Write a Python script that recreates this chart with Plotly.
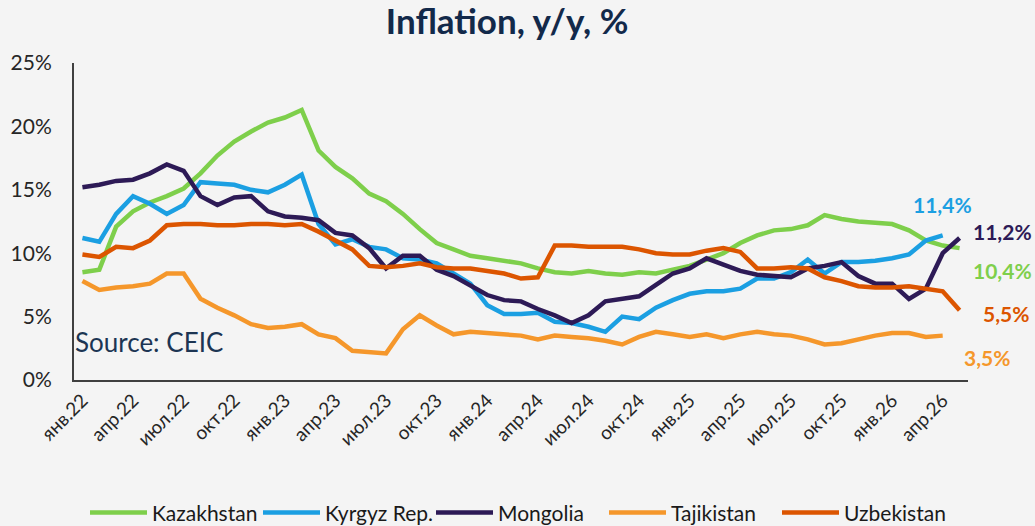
import plotly.graph_objects as go

months_ru = ["янв", "фев", "мар", "апр", "май", "июн", "июл", "авг", "сен", "окт", "ноя", "дек"]
categories = [f"{m}.{y}" for y in ["22", "23", "24", "25", "26"] for m in months_ru][:53]
tick_labels = categories[::3]

kazakhstan = [8.5, 8.7, 12.1, 13.3, 14.0, 14.5, 15.1, 16.3, 17.7, 18.8, 19.6, 20.3, 20.7, 21.3,
              18.1, 16.8, 15.9, 14.7, 14.1, 13.1, 11.9, 10.8, 10.3, 9.8, 9.6, 9.4, 9.2, 8.8,
              8.5, 8.4, 8.6, 8.4, 8.3, 8.5, 8.4, 8.7, 9.0, 9.5, 10.0, 10.8, 11.4, 11.8, 11.9,
              12.2, 13.0, 12.7, 12.5, 12.4, 12.3, 11.8, 11.0, 10.6, 10.4]
kyrgyz = [11.2, 10.9, 13.1, 14.5, 13.9, 13.1, 13.8, 15.6, 15.5, 15.4, 15.0, 14.8, 15.4, 16.2,
          12.3, 10.7, 11.1, 10.5, 10.3, 9.6, 9.5, 9.2, 8.4, 7.6, 5.9, 5.2, 5.2, 5.3,
          4.6, 4.5, 4.2, 3.8, 5.0, 4.8, 5.7, 6.3, 6.8, 7.0, 7.0, 7.2, 8.0, 8.0, 8.5,
          9.5, 8.4, 9.3, 9.3, 9.4, 9.6, 9.9, 11.0, 11.4]
mongolia = [15.2, 15.4, 15.7, 15.8, 16.3, 17.0, 16.5, 14.5, 13.8, 14.4, 14.5, 13.3, 12.9, 12.8,
            12.6, 11.6, 11.4, 10.4, 8.8, 9.8, 9.8, 8.7, 8.2, 7.5, 6.7, 6.3, 6.2, 5.6,
            5.1, 4.5, 5.1, 6.2, 6.4, 6.6, 7.5, 8.4, 8.8, 9.6, 9.1, 8.6, 8.3, 8.2, 8.1,
            8.8, 9.0, 9.3, 8.2, 7.6, 7.6, 6.4, 7.2, 10.0, 11.2]
tajikistan = [7.8, 7.1, 7.3, 7.4, 7.6, 8.4, 8.4, 6.4, 5.7, 5.1, 4.4, 4.1, 4.2, 4.4,
              3.6, 3.3, 2.3, 2.2, 2.1, 4.0, 5.1, 4.3, 3.6, 3.8, 3.7, 3.6, 3.5, 3.2,
              3.5, 3.4, 3.3, 3.1, 2.8, 3.4, 3.8, 3.6, 3.4, 3.6, 3.3, 3.6, 3.8, 3.6, 3.5,
              3.2, 2.8, 2.9, 3.2, 3.5, 3.7, 3.7, 3.4, 3.5]
uzbekistan = [9.9, 9.7, 10.5, 10.4, 11.0, 12.2, 12.3, 12.3, 12.2, 12.2, 12.3, 12.3, 12.2, 12.3,
              11.7, 11.0, 10.3, 9.0, 8.9, 9.0, 9.2, 8.9, 8.8, 8.8, 8.6, 8.4, 8.0, 8.1,
              10.6, 10.6, 10.5, 10.5, 10.5, 10.3, 10.0, 9.9, 9.9, 10.2, 10.4, 10.1, 8.8, 8.8, 8.9,
              8.8, 8.1, 7.8, 7.4, 7.3, 7.3, 7.4, 7.2, 7.0, 5.5]

series = [
    ("Kazakhstan", kazakhstan, "#7ecf4b"),
    ("Kyrgyz Rep.", kyrgyz, "#1b9fe2"),
    ("Mongolia", mongolia, "#2d1a56"),
    ("Tajikistan", tajikistan, "#f5972b"),
    ("Uzbekistan", uzbekistan, "#dc5500"),
]

fig = go.Figure()
for name, vals, color in series:
    fig.add_trace(go.Scatter(
        x=categories[:len(vals)], y=vals, mode="lines", name=name,
        line=dict(color=color, width=4.5),
    ))

# end labels
end_labels = [
    ("11,4%", kyrgyz, "#1b9fe2", "center", 0, 31),
    ("11,2%", mongolia, "#2d1a56", "left", 11, 6),
    ("10,4%", kazakhstan, "#7ecf4b", "left", 11, -22),
    ("5,5%", uzbekistan, "#dc5500", "left", 21, -3),
    ("3,5%", tajikistan, "#f5972b", "left", 19, -22),
]
for text, vals, color, anchor, xs, ys in end_labels:
    fig.add_annotation(
        x=categories[len(vals) - 1], y=vals[-1], text=f"<b>{text}</b>",
        showarrow=False, xanchor=anchor, yanchor="middle", xshift=xs, yshift=ys,
        font=dict(family="Lato", size=21, color=color),
    )

fig.add_annotation(
    xref="paper", yref="y", x=0.0, y=3.0, text="Source: CEIC", showarrow=False,
    xanchor="left", yanchor="middle", xshift=-1,
    font=dict(family="Lato", size=26, color="#1c3553"),
)

fig.update_layout(
    width=1035, height=526,
    paper_bgcolor="#f4f4f4", plot_bgcolor="#f4f4f4",
    margin=dict(l=74, r=67, t=63, b=146, autoexpand=False),
    title=dict(text="<b>Inflation, y/y, %</b>", x=0.49, xanchor="center", y=0.958, yanchor="middle",
               xref="container",
               font=dict(family="Lato", size=35, color="#12294a")),
    showlegend=True,
    legend=dict(orientation="h", x=0.5, xanchor="center", xref="container",
                y=0.025, yanchor="middle", yref="container",
                font=dict(family="Lato", size=21, color="#1a1a1a"),
                itemwidth=57, entrywidth=101,
                bgcolor="rgba(0,0,0,0)"),
    font=dict(family="Lato"),
)
fig.update_xaxes(
    type="category", categoryorder="array", categoryarray=categories,
    range=[-0.5, len(categories) - 0.5],
    tickmode="array", tickvals=tick_labels, ticktext=tick_labels,
    tickangle=-45, tickfont=dict(family="Lato", size=19, color="#262626"),
    showgrid=False, showline=True, linecolor="#404040", linewidth=2,
    ticks="", zeroline=False,
)
fig.update_yaxes(
    range=[0, 25], tickvals=[0, 5, 10, 15, 20, 25], ticktext=["0%", "5%", "10%", "15%", "20%", "25%"],
    tickfont=dict(family="Lato", size=21, color="#262626"),
    showgrid=False, showline=True, linecolor="#404040", linewidth=2, zeroline=False,
    ticks="", ticklabelstandoff=16,
)

fig.write_html("out.html", config={"displayModeBar": False},
               post_script="document.body.style.margin='0';document.body.style.background='#f4f4f4';")
